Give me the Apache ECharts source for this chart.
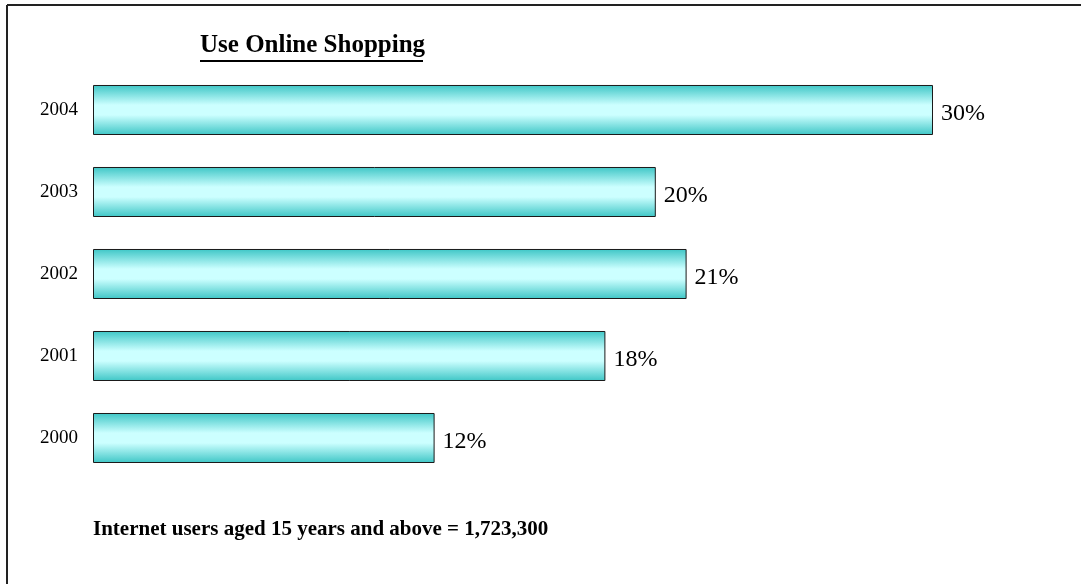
<!DOCTYPE html>
<html>
<head>
<meta charset="utf-8">
<script src="https://cdn.jsdelivr.net/npm/echarts@6/dist/echarts.min.js"></script>
<style>html,body{margin:0;padding:0;background:#fff}#c{width:1081px;height:584px}</style>
</head>
<body>
<div id="c"></div>
<script>
const years = ['2000', '2001', '2002', '2003', '2004'];
const shares = [12.2, 18.3, 21.2, 20.1, 30.0];
const shareLabels = ['12%', '18%', '21%', '20%', '30%'];
const titleText = 'Use Online Shopping';
const noteText = 'Internet users aged 15 years and above = 1,723,300';

const chart = echarts.init(document.getElementById('c'), null, {renderer: 'canvas'});
const serif = '"Liberation Serif", "Times New Roman", serif';
chart.setOption({
  backgroundColor: '#ffffff',
  animation: false,
  grid: {left: 93, top: 69, width: 980, bottom: 105, containLabel: false},
  xAxis: {
    type: 'value', min: 0, max: 35,
    show: false
  },
  yAxis: {
    type: 'category', data: years,
    axisLine: {show: false}, axisTick: {show: false}, splitLine: {show: false},
    axisLabel: {color: '#000', fontFamily: serif, fontSize: 19, margin: 15}
  },
  series: [{
    type: 'bar',
    data: shares,
    barCategoryGap: '39%',
    itemStyle: {
      borderColor: '#1a1a1a', borderWidth: 1,
      color: new echarts.graphic.LinearGradient(0, 0, 0, 1, [
        {offset: 0, color: '#3ec6c6'},
        {offset: 0.4, color: '#ccffff'},
        {offset: 0.6, color: '#ccffff'},
        {offset: 1, color: '#3ec6c6'}
      ])
    },
    label: {
      show: true, position: 'right', distance: 8,
      color: '#000', fontFamily: serif, fontSize: 24,
      offset: [0, 4],
      formatter: p => shareLabels[p.dataIndex]
    }
  }],
  graphic: [
    {type: 'line', shape: {x1: 7, y1: 5, x2: 1081, y2: 5}, style: {stroke: '#222', lineWidth: 2}},
    {type: 'line', shape: {x1: 7, y1: 5, x2: 7, y2: 584}, style: {stroke: '#222', lineWidth: 2}},
    {type: 'text', left: 200, top: 33, style: {text: titleText, fill: '#000', font: 'bold 25px ' + serif}},
    {type: 'line', shape: {x1: 200, y1: 61, x2: 423, y2: 61}, style: {stroke: '#000', lineWidth: 2}},
    {type: 'text', left: 93, top: 519, style: {text: noteText, fill: '#000', font: 'bold 21px ' + serif}}
  ]
});
</script>
</body>
</html>
